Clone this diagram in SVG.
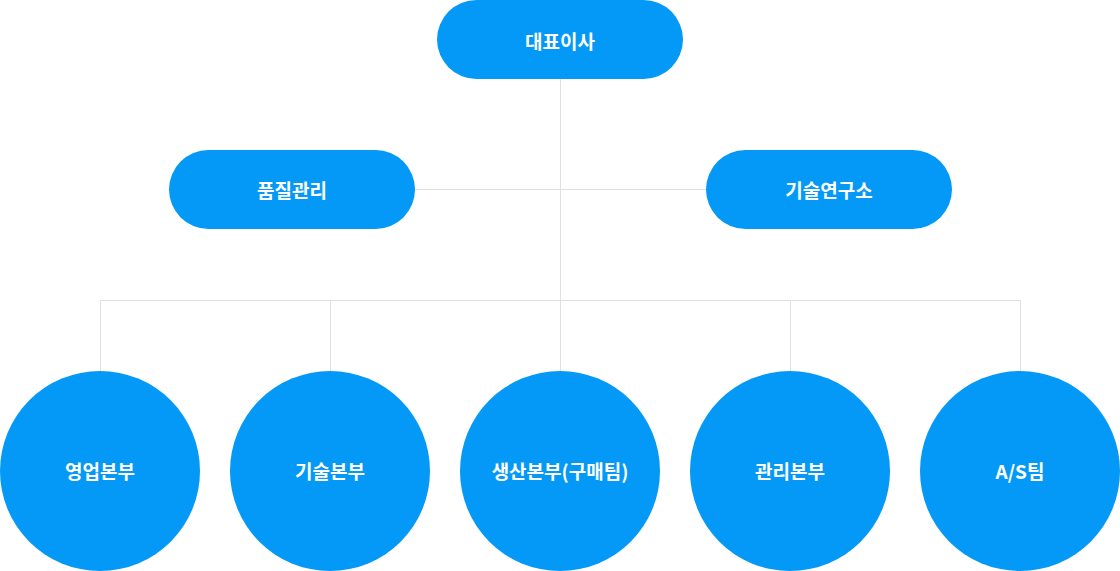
<svg xmlns="http://www.w3.org/2000/svg" width="1120" height="571" viewBox="0 0 1120 571">
<style>
.n{fill:#0499f7}
.t{fill:#fff;font-family:"Noto Sans CJK KR","Noto Sans",sans-serif;font-weight:bold;font-size:19px;text-anchor:middle;dominant-baseline:central}
.c{stroke:#e0e0e0;stroke-width:1;fill:none}
</style>
<rect width="1120" height="571" fill="#fff"/>
<g id="connectors">
<path class="c" d="M560.5 79V300.5M415 189.5H706M100.5 371V300.5H1020.5V371M330.5 300.5V371M560.5 300.5V371M790.5 300.5V371"/>
</g>
<g id="ceo"><rect class="n" x="437" y="0" width="246" height="79" rx="39.5"/><text class="t" x="560" y="40">대표이사</text></g>
<g id="qa"><rect class="n" x="169" y="150" width="246" height="79" rx="39.5"/><text class="t" x="292" y="189">품질관리</text></g>
<g id="lab"><rect class="n" x="706" y="150" width="246" height="79" rx="39.5"/><text class="t" x="829" y="189">기술연구소</text></g>
<g id="sales"><circle class="n" cx="100" cy="471" r="100"/><text class="t" x="100" y="470">영업본부</text></g>
<g id="tech"><circle class="n" cx="330" cy="471" r="100"/><text class="t" x="330" y="470">기술본부</text></g>
<g id="prod"><circle class="n" cx="560" cy="471" r="100"/><text class="t" x="560" y="470">생산본부(구매팀)</text></g>
<g id="admin"><circle class="n" cx="790" cy="471" r="100"/><text class="t" x="790" y="470">관리본부</text></g>
<g id="as"><circle class="n" cx="1020" cy="471" r="100"/><text class="t" x="1020" y="470">A/S팀</text></g>
</svg>
